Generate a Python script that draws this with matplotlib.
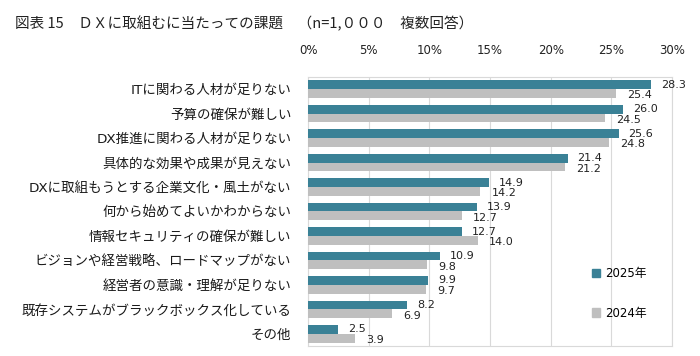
import matplotlib
matplotlib.use("Agg")
import matplotlib.pyplot as plt
import numpy as np
from matplotlib.patches import Patch

plt.rcParams['font.family'] = ['DejaVu Sans', 'Noto Sans CJK JP']

categories = [
    "ITに関わる人材が足りない",
    "予算の確保が難しい",
    "DX推進に関わる人材が足りない",
    "具体的な効果や成果が見えない",
    "DXに取組もうとする企業文化・風土がない",
    "何から始めてよいかわからない",
    "情報セキュリティの確保が難しい",
    "ビジョンや経営戦略、ロードマップがない",
    "経営者の意識・理解が足りない",
    "既存システムがブラックボックス化している",
    "その他",
]
values_2025 = [28.3, 26.0, 25.6, 21.4, 14.9, 13.9, 12.7, 10.9, 9.9, 8.2, 2.5]
values_2024 = [25.4, 24.5, 24.8, 21.2, 14.2, 12.7, 14.0, 9.8, 9.7, 6.9, 3.9]
xticks = [0, 5, 10, 15, 20, 25, 30]

teal = '#3a8196'
grey = '#bfbfbf'

fig = plt.figure(figsize=(7, 3.56), dpi=100)
ax = fig.add_axes([0.44, 0.028, 0.52, 0.756])

y = np.arange(len(categories))
h = 0.36
ax.barh(y - h / 2, values_2025, height=h, color=teal, zorder=3)
ax.barh(y + h / 2, values_2024, height=h, color=grey, zorder=3)

for yi, v in zip(y, values_2025):
    ax.annotate(f"{v:.1f}", (v, yi - h / 2), xytext=(7, 0), textcoords='offset points',
                va='center', ha='left', fontsize=8, color='#222222')
for yi, v in zip(y, values_2024):
    ax.annotate(f"{v:.1f}", (v, yi + h / 2 + 0.08), xytext=(8, 0), textcoords='offset points',
                va='center', ha='left', fontsize=8, color='#222222')

ax.set_xlim(0, 30)
ax.set_ylim(len(categories) - 0.5, -0.5)
ax.set_xticks(xticks)
ax.set_xticklabels([f"{t}%" for t in xticks], fontsize=8.5, color='#222222')
ax.xaxis.tick_top()
ax.tick_params(axis='x', length=0, pad=14)
ax.set_yticks(y)
ax.set_yticklabels(categories, fontsize=9.7, color='#1a1a1a')
ax.tick_params(axis='y', length=0, pad=12)
ax.grid(axis='x', color='#d9d9d9', linewidth=0.8, zorder=0)
for s in ax.spines.values():
    s.set_color('#d9d9d9')

handles = [Patch(color=teal, label='2025年'), Patch(color=grey, label='2024年')]
ax.legend(handles=handles, loc='center left', bbox_to_anchor=(0.75, 0.195), frameon=False,
          fontsize=8.5, handlelength=0.75, handleheight=0.75, handletextpad=0.4,
          labelspacing=2.25)

fig.text(0.021, 0.935, "図表 15　ＤＸに取組むに当たっての課題　（n=1,０００　複数回答）",
         fontsize=10.5, color='#222222', va='center', ha='left',
         family=['Noto Sans CJK JP', 'DejaVu Sans'])

fig.savefig('out.png', dpi=100)
